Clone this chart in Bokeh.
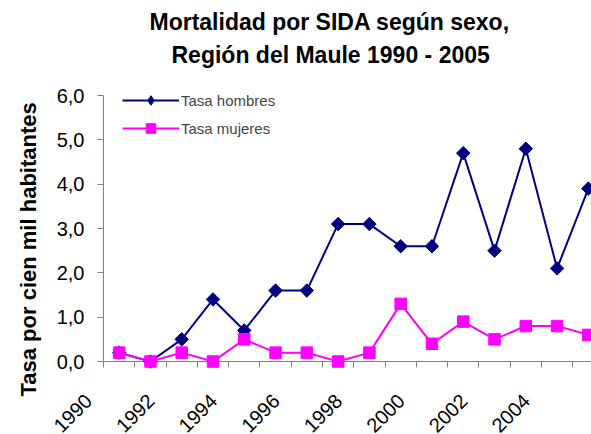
import math
from bokeh.plotting import figure
from bokeh.models import FixedTicker, Title, Range1d, Legend, LegendItem
from bokeh.core.properties import value
from bokeh.embed import file_html
from bokeh.resources import INLINE

# ---- data ----
years = list(range(1990, 2006))
tasa_hombres = [0.2, 0.0, 0.5, 1.4, 0.7, 1.6, 1.6, 3.1, 3.1, 2.6, 2.6, 4.7, 2.5, 4.8, 2.1, 3.9]
tasa_mujeres = [0.2, 0.0, 0.2, 0.0, 0.5, 0.2, 0.2, 0.0, 0.2, 1.3, 0.4, 0.9, 0.5, 0.8, 0.8, 0.6]
x_tick_labels = ["1990", "1992", "1994", "1996", "1998", "2000", "2002", "2004"]
y_ticks = [0, 1, 2, 3, 4, 5, 6]
y_tick_labels = ["0,0", "1,0", "2,0", "3,0", "4,0", "5,0", "6,0"]
title_lines = ["Mortalidad por SIDA según sexo,", "Región del Maule  1990 - 2005"]
y_label = "Tasa por cien mil habitantes"
series_names = ["Tasa hombres", "Tasa mujeres"]

FONT = "Liberation Sans"
NAVY = "#000080"
MAGENTA = "#FF00FF"
AXIS_GREY = "#808080"

p = figure(width=591, height=434, output_backend="svg", toolbar_location=None,
           x_range=Range1d(years[0] - 0.5, years[-1] + 0.1),
           y_range=Range1d(y_ticks[0], y_ticks[-1]),
           min_border_left=101, min_border_right=0, min_border_bottom=73,
           min_border_top=95, title=None)
p.outline_line_color = None
p.xgrid.visible = False
p.ygrid.visible = False

# two-line title (spacer first so the title sits well above the plot)
spacer = Title(text=" ", text_font_size="1px", standoff=24)
t2 = Title(text=title_lines[1], align="left", offset=68, text_font=FONT,
           text_font_size="23px", text_font_style="bold", text_color="black",
           standoff=2)
t1 = Title(text=title_lines[0], align="left", offset=46, text_font=FONT,
           text_font_size="23px", text_font_style="bold", text_color="black",
           standoff=8)
p.add_layout(spacer, "above")
p.add_layout(t2, "above")
p.add_layout(t1, "above")

# y axis title
ty = Title(text=y_label, align="left", offset=-35, text_font=FONT,
           text_font_size="22px", text_font_style="bold", text_color="black",
           standoff=26)
p.add_layout(ty, "left")

# series
lm = p.line(years, tasa_hombres, line_color=NAVY, line_width=2)
dm = p.scatter(years, tasa_hombres, marker="diamond", size=12,
               fill_color=NAVY, line_color=NAVY, level="overlay")
sm = p.scatter(years, tasa_hombres, marker="square", angle=math.pi / 4, size=9.5,
               fill_color=NAVY, line_color=NAVY, level="overlay")
lw = p.line(years, tasa_mujeres, line_color=MAGENTA, line_width=2)
sw = p.scatter(years, tasa_mujeres, marker="square", size=11.5,
               fill_color=MAGENTA, line_color=MAGENTA, level="overlay")

# x axis: tick marks at category boundaries
bounds = [y - 0.5 for y in years] + [years[-1] + 0.5]
xa = p.xaxis[0]
xa.ticker = FixedTicker(ticks=bounds)
xa.major_label_overrides = {b: "" for b in bounds}
xa.major_label_text_font_size = "1px"
xa.major_tick_out = 6
xa.major_tick_in = 0
xa.minor_tick_out = 0
xa.minor_tick_in = 0
xa.axis_line_color = AXIS_GREY
xa.major_tick_line_color = AXIS_GREY

# rotated year labels (every other year), ending at their boundary tick
label_x = [int(lab) - 0.5 for lab in x_tick_labels]
label_y = [y_ticks[0]] * len(x_tick_labels)
p.text(x=label_x, y=label_y, text=x_tick_labels, angle=math.pi / 4,
       text_align="right", text_baseline="top", x_offset=-20, y_offset=31,
       text_font=value(FONT), text_font_size="20px", text_color="black",
       level="overlay")

# y axis
ya = p.yaxis[0]
ya.ticker = FixedTicker(ticks=y_ticks)
ya.major_label_overrides = {t: l for t, l in zip(y_ticks, y_tick_labels)}
ya.major_label_text_font = FONT
ya.major_label_text_font_size = "20px"
ya.major_label_text_color = "black"
ya.major_label_standoff = 13
ya.major_tick_out = 6
ya.major_tick_in = 0
ya.minor_tick_out = 0
ya.minor_tick_in = 0
ya.axis_line_color = AXIS_GREY
ya.major_tick_line_color = AXIS_GREY

legend = Legend(items=[LegendItem(label=series_names[0], renderers=[lm, dm]),
                       LegendItem(label=series_names[1], renderers=[lw, sw])],
                location=(19, 221), margin=0, padding=0, spacing=4,
                glyph_width=57, glyph_height=24, label_height=24,
                label_standoff=2, label_text_font=FONT, label_text_font_size="15px",
                border_line_color=None, background_fill_alpha=0)
p.add_layout(legend)

open("out.html", "w").write(file_html(p, INLINE))
